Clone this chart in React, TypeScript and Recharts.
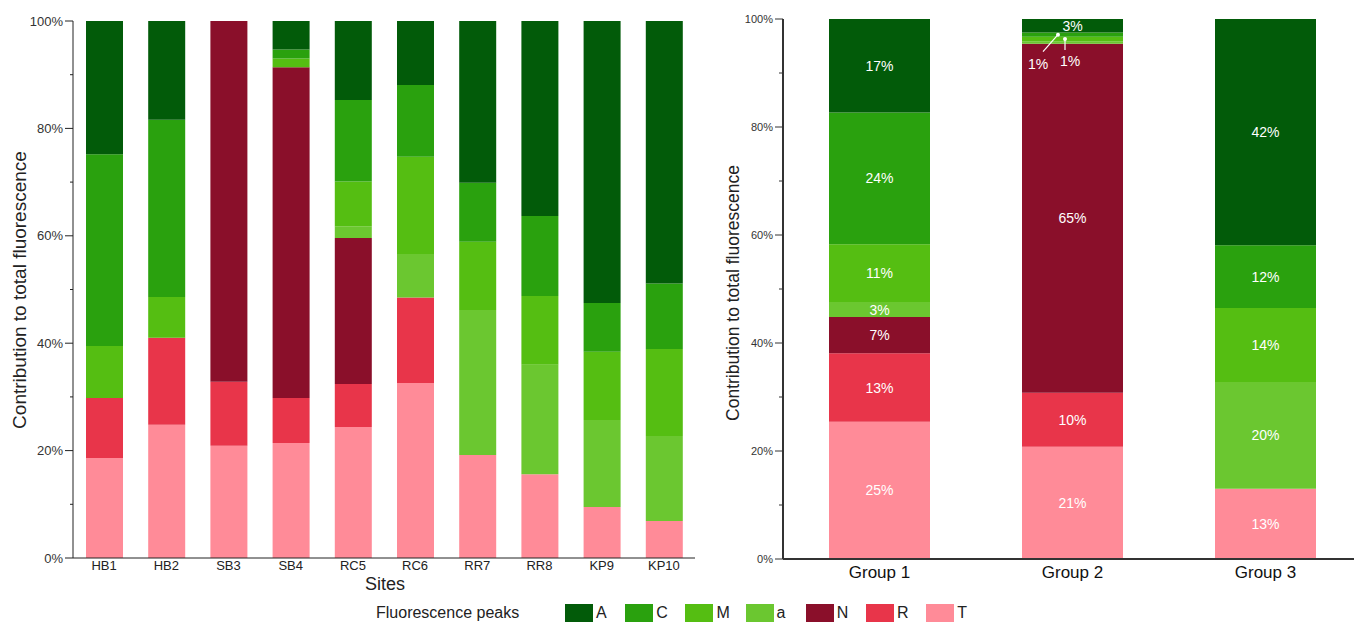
import { Bar, BarChart, LabelList, ReferenceLine, XAxis, YAxis } from 'recharts';

const FONT = '"Liberation Sans", Arial, sans-serif';

// legend order (top of stack first) and stacking order (bottom first)
const peaks = ['A', 'C', 'M', 'a', 'N', 'R', 'T'];
const stackOrder = ['T', 'R', 'N', 'a', 'M', 'C', 'A'];
const colors: Record<string, string> = {
  A: '#025b09',
  C: '#2aa10e',
  M: '#55be12',
  a: '#6bc730',
  N: '#8a0f2a',
  R: '#e8354a',
  T: '#ff8b98',
};

const yTicks = [0, 20, 40, 60, 80, 100];
const yMinor = [10, 30, 50, 70, 90];

// left panel: sites
const sites = ['HB1', 'HB2', 'SB3', 'SB4', 'RC5', 'RC6', 'RR7', 'RR8', 'KP9', 'KP10'];
const siteT = [18.6, 24.8, 20.9, 21.4, 24.4, 32.6, 19.2, 15.6, 9.5, 6.9];
const siteR = [11.2, 16.2, 11.9, 8.4, 8.0, 15.9, 0, 0, 0, 0];
const siteN = [0, 0, 67.2, 61.6, 27.2, 0, 0, 0, 0, 0];
const sitea = [0, 0, 0, 0, 2.2, 8.1, 27.0, 20.4, 16.2, 15.8];
const siteM = [9.7, 7.6, 0, 1.6, 8.3, 18.1, 12.7, 12.8, 12.7, 16.2];
const siteC = [35.7, 33.0, 0, 1.7, 15.2, 13.4, 11.0, 14.9, 9.1, 12.2];
const siteA = [24.8, 18.4, 0, 5.3, 14.7, 11.9, 30.1, 36.3, 52.5, 48.9];

// right panel: groups
const groups = ['Group 1', 'Group 2', 'Group 3'];
const groupT = [25.4, 20.8, 13.0];
const groupR = [12.7, 10.0, 0];
const groupN = [6.7, 64.6, 0];
const groupa = [2.8, 0.5, 19.8];
const groupM = [10.7, 0.8, 13.7];
const groupC = [24.4, 0.8, 11.6];
const groupA = [17.3, 2.5, 41.9];

const siteData = sites.map((name, i) => ({
  name, T: siteT[i], R: siteR[i], N: siteN[i], a: sitea[i], M: siteM[i], C: siteC[i], A: siteA[i],
}));
const groupData = groups.map((name, i) => ({
  name, T: groupT[i], R: groupR[i], N: groupN[i], a: groupa[i], M: groupM[i], C: groupC[i], A: groupA[i],
}));

// small segments in Group 2 get a label with a leader line
const callouts: Record<string, { dot: number; lx: number; ly: number; tx: number; ty: number }> = {
  C: { dot: 36, lx: 21, ly: 17, tx: 16, ty: 29 },
  M: { dot: 43, lx: 43, ly: 11, tx: 48, ty: 22 },
};

const minorTick = (len: number, color: string) => (p: any) =>
  <line x1={p.x1 - len} x2={p.x1} y1={p.y1} y2={p.y1} stroke={color} strokeWidth={1} />;

function segLabel(key: string) {
  return (p: any) => {
    const vb = p.viewBox ?? p;
    const x = Number(vb.x ?? p.x), y = Number(vb.y ?? p.y);
    const w = Number(vb.width ?? p.width), h = Number(vb.height ?? p.height);
    const v = Number(p.value);
    if (!v || v < 0.6) return null;
    const cy = y + h / 2;
    const text = `${Math.round(v)}%`;
    if (v < 1.5) {
      const c = callouts[key];
      if (!c) return null;
      return (
        <g>
          <line x1={x + c.dot} y1={cy} x2={x + c.lx} y2={cy + c.ly} stroke="#fff" strokeWidth={1.2} />
          <circle cx={x + c.dot} cy={cy} r={2} fill="#fff" />
          <text x={x + c.tx} y={cy + c.ty} fill="#fff" fontSize={14} fontFamily={FONT}
            textAnchor="middle" dominantBaseline="central">{text}</text>
        </g>
      );
    }
    return (
      <text x={x + w / 2} y={cy} fill="#fff" fontSize={14} fontFamily={FONT}
        textAnchor="middle" dominantBaseline="central">{text}</text>
    );
  };
}

function SitesChart() {
  return (
    <BarChart width={700} height={600} data={siteData}
      margin={{ top: 21, right: 5, bottom: 12, left: 13 }}>
      <XAxis dataKey="name" height={30} tickLine={false} tickSize={0} tickMargin={3}
        tick={{ fontSize: 13, fill: '#222', fontFamily: FONT }} axisLine={{ stroke: '#222' }} />
      <XAxis xAxisId="top" orientation="top" dataKey="name" height={0} tick={false} tickLine={false}
        axisLine={{ stroke: '#222' }} />
      <YAxis width={60} domain={[0, 100]} ticks={yTicks} tickSize={8} tickMargin={2}
        tickFormatter={(v) => `${v}%`} tick={{ fontSize: 13, fill: '#333', fontFamily: FONT }}
        axisLine={{ stroke: '#222' }} tickLine={{ stroke: '#222' }} />
      <YAxis yAxisId="right" orientation="right" width={0} domain={[0, 100]} tick={false} tickLine={false}
        axisLine={{ stroke: '#222' }} />
      {yMinor.map((v) => (
        <ReferenceLine key={v} y={v} ifOverflow="visible" shape={minorTick(3, '#222')} />
      ))}
      {stackOrder.map((k) => (
        <Bar key={k} dataKey={k} stackId="s" fill={colors[k]} barSize={37} isAnimationActive={false} />
      ))}
    </BarChart>
  );
}

function GroupsChart() {
  return (
    <BarChart width={662} height={600} data={groupData}
      margin={{ top: 19, right: 0, bottom: 11, left: 23 }}>
      <XAxis dataKey="name" height={30} tickLine={false} tickSize={0} tickMargin={7}
        tick={{ fontSize: 17, fill: '#111', fontFamily: FONT }} axisLine={{ stroke: '#333', strokeWidth: 2 }} />
      <XAxis xAxisId="top" orientation="top" dataKey="name" height={0} tick={false} tickLine={false}
        axisLine={{ stroke: '#111', strokeWidth: 2 }} />
      <YAxis width={60} domain={[0, 100]} ticks={yTicks} tickSize={8} tickMargin={2}
        tickFormatter={(v) => `${v}%`} tick={{ fontSize: 11, fill: '#333', fontFamily: FONT }}
        axisLine={{ stroke: '#333', strokeWidth: 2 }} tickLine={{ stroke: '#333' }} />
      {yMinor.map((v) => (
        <ReferenceLine key={v} y={v} ifOverflow="visible" shape={minorTick(4, '#333')} />
      ))}
      {stackOrder.map((k) => (
        <Bar key={k} dataKey={k} stackId="s" fill={colors[k]} barSize={101} isAnimationActive={false}>
          <LabelList dataKey={k} content={segLabel(k)} />
        </Bar>
      ))}
    </BarChart>
  );
}

const titleStyle = (x: number, y: number, size: number, rotate = false): React.CSSProperties => ({
  position: 'absolute', left: x, top: y, fontSize: size, fontFamily: FONT, color: '#222',
  whiteSpace: 'nowrap', transform: `translate(-50%, -50%)${rotate ? ' rotate(-90deg)' : ''}`,
});

export default function App() {
  return (
    <div style={{ position: 'absolute', left: 0, top: 0, width: 1354, height: 624, background: '#fff', overflow: 'hidden' }}>
      <div style={{ position: 'absolute', left: 0, top: 0 }}>
        <SitesChart />
      </div>
      <div style={{ position: 'absolute', left: 700, top: 0 }}>
        <GroupsChart />
      </div>
      <div style={titleStyle(20, 290, 19, true)}>Contribution to total fluorescence</div>
      <div style={titleStyle(733, 293, 17.5, true)}>Contribution to total fluorescence</div>
      <div style={titleStyle(385, 584, 18)}>Sites</div>
      <div style={{ position: 'absolute', left: 376, top: 603, height: 20, display: 'flex', alignItems: 'center', fontFamily: FONT, color: '#222' }}>
        <span style={{ fontSize: 16, width: 189 }}>Fluorescence peaks</span>
        {peaks.map((k) => (
          <span key={k} style={{ display: 'flex', alignItems: 'center', width: 60.2, fontSize: 16 }}>
            <span style={{ display: 'inline-block', width: 28, height: 18, background: colors[k], marginRight: 3 }} />
            {k}
          </span>
        ))}
      </div>
    </div>
  );
}
